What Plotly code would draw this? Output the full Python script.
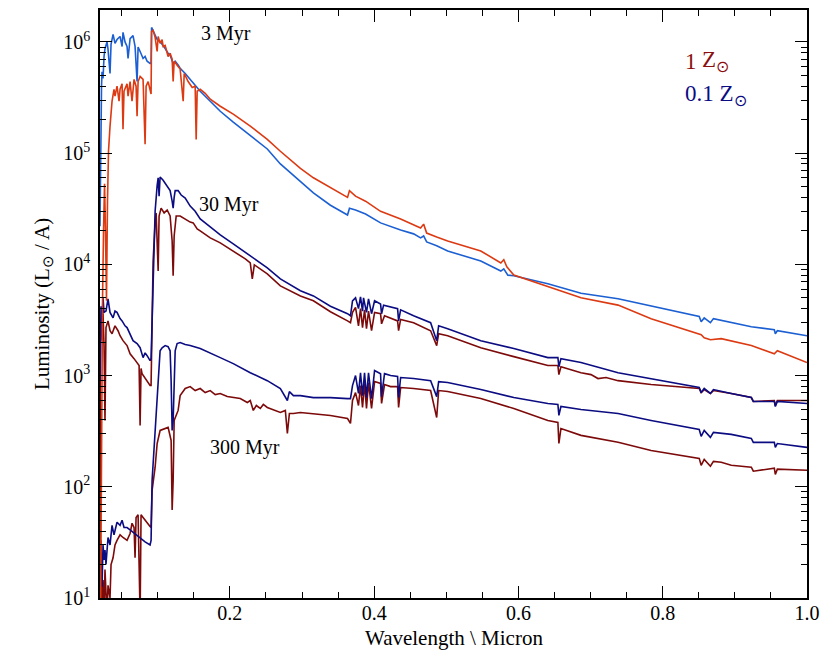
import plotly.graph_objects as go

# Spectra: wavelength in micron, luminosity in L_sun / A

# ---- 3 Myr, 1 Z_sun ----
wl_3myr_z1 = [0.0207, 0.0221, 0.0235, 0.0249, 0.0263, 0.0276, 0.0290, 0.0304, 0.0318,
              0.0339, 0.0367, 0.0394, 0.0408, 0.0436, 0.0464, 0.0478, 0.0506, 0.0519,
              0.0533, 0.0575, 0.0589, 0.0617, 0.0644, 0.0672, 0.0700, 0.0714, 0.0728,
              0.0756, 0.0797, 0.0825, 0.0839, 0.0867, 0.0894, 0.0908, 0.0915, 0.0936,
              0.0964, 0.0992, 0.1006, 0.1033, 0.1061, 0.1075, 0.1103, 0.1144, 0.1172,
              0.1200, 0.1214, 0.1228, 0.1283, 0.1311, 0.1353, 0.1367, 0.1422, 0.1478,
              0.1519, 0.1533, 0.1547, 0.1589, 0.1658, 0.1728, 0.1867, 0.2047, 0.2283,
              0.2519, 0.2700, 0.2978, 0.3158, 0.3394, 0.3631, 0.3658, 0.3742, 0.3881,
              0.4089, 0.4367, 0.4547, 0.4644, 0.4686, 0.4728, 0.4867, 0.5019, 0.5478,
              0.5756, 0.5797, 0.5839, 0.5936, 0.6408, 0.6867, 0.7381, 0.7839, 0.8533,
              0.8575, 0.8661, 0.8811, 0.9228, 0.9547, 0.9589, 1.0000]
lum_3myr_z1 = [6, 395, 4.7e3, 2.0e4, 5.3e4, 2.0e4, 4.7e3, 3.7e4, 1.04e5,
               1.75e5, 2.93e5, 3.75e5, 3.25e5, 4.0e5, 2.93e5, 3.75e5, 4.2e5, 1.64e5,
               3.6e5, 4.2e5, 3.25e5, 4.4e5, 2.93e5, 4.6e5, 4.0e5, 2.15e5, 4.4e5,
               4.9e5, 4.6e5, 1.2e5, 4.0e5, 4.4e5, 3.6e5, 3.4e5, 1.24e6, 1.27e6,
               1.1e6, 8.2e5, 1.12e6, 9.7e5, 1.05e6, 9.1e5, 9.3e5, 7.4e5, 7.9e5,
               7.0e5, 4.4e5, 6.7e5, 6.0e5, 5.7e5, 2.93e5, 5.2e5, 4.4e5, 3.9e5,
               4.0e5, 1.33e5, 3.6e5, 3.75e5, 3.45e5, 3.05e5, 2.64e5, 2.24e5, 1.75e5,
               1.33e5, 1.04e5, 7.3e4, 6.0e4, 4.9e4, 4.0e4, 4.6e4, 4.1e4, 3.7e4,
               3.0e4, 2.56e4, 2.26e4, 2.12e4, 2.3e4, 1.91e4, 1.76e4, 1.62e4, 1.32e4,
               1.03e4, 1.1e4, 9.5e3, 8.0e3, 6.3e3, 5.0e3, 4.3e3, 3.25e3, 2.33e3,
               2.19e3, 2.1e3, 2.15e3, 1.86e3, 1.57e3, 1.67e3, 1.31e3]

# ---- 3 Myr, 0.1 Z_sun ----
wl_3myr_z01 = [0.0200, 0.0207, 0.0214, 0.0221, 0.0228, 0.0242, 0.0256, 0.0269, 0.0297,
               0.0311, 0.0339, 0.0353, 0.0381, 0.0408, 0.0436, 0.0478, 0.0506, 0.0519,
               0.0547, 0.0575, 0.0589, 0.0617, 0.0658, 0.0686, 0.0714, 0.0728, 0.0756,
               0.0797, 0.0825, 0.0853, 0.0894, 0.0908, 0.0915, 0.0922, 0.0964, 0.0992,
               0.1033, 0.1075, 0.1103, 0.1144, 0.1172, 0.1214, 0.1242, 0.1283, 0.1311,
               0.1381, 0.1450, 0.1519, 0.1589, 0.1728, 0.1867, 0.2047, 0.2283, 0.2519,
               0.2700, 0.2978, 0.3158, 0.3394, 0.3631, 0.3658, 0.3742, 0.3881, 0.4089,
               0.4367, 0.4547, 0.4644, 0.4686, 0.4728, 0.4867, 0.5019, 0.5478, 0.5756,
               0.5797, 0.5853, 0.5936, 0.6408, 0.6867, 0.7381, 0.7839, 0.8506, 0.8533,
               0.8575, 0.8661, 0.8703, 0.9228, 0.9547, 0.9561, 0.9589, 1.0000]
lum_3myr_z01 = [2.2e4, 8.5e4, 2.4e5, 4.0e5, 5.4e5, 4.7e5, 7.4e5, 8.7e5, 1.0e6,
                8.6e5, 5.2e5, 9.5e5, 1.17e6, 9.7e5, 1.05e6, 1.12e6, 9.1e5, 1.22e6,
                1.0e6, 9.1e5, 7.1e5, 1.07e6, 1.14e6, 9.1e5, 4.4e5, 9.0e5, 8.2e5,
                7.1e5, 7.4e5, 6.7e5, 6.4e5, 6.4e5, 1.35e6, 1.32e6, 1.17e6, 1.05e6,
                1.01e6, 9.3e5, 8.7e5, 7.9e5, 7.6e5, 6.4e5, 6.7e5, 6.2e5, 5.8e5,
                5.2e5, 4.6e5, 4.1e5, 3.6e5, 2.93e5, 2.38e5, 1.9e5, 1.45e5, 1.09e5,
                8.0e4, 5.6e4, 4.4e4, 3.4e4, 2.78e4, 3.2e4, 3.08e4, 2.84e4, 2.36e4,
                2.04e4, 1.88e4, 1.73e4, 1.8e4, 1.59e4, 1.47e4, 1.32e4, 1.07e4, 8.7e3,
                9.1e3, 8.0e3, 7.9e3, 6.7e3, 5.5e3, 4.9e3, 4.2e3, 3.4e3, 3.05e3,
                3.3e3, 2.99e3, 3.25e3, 2.75e3, 2.58e3, 2.38e3, 2.53e3, 2.28e3]

# ---- 30 Myr, 1 Z_sun ----
wl_30myr_z1 = [0.0200, 0.0207, 0.0214, 0.0228, 0.0242, 0.0256, 0.0269, 0.0283, 0.0311,
               0.0339, 0.0367, 0.0408, 0.0450, 0.0478, 0.0519, 0.0575, 0.0617, 0.0672,
               0.0714, 0.0742, 0.0756, 0.0769, 0.0783, 0.0825, 0.0853, 0.0894, 0.0908,
               0.0922, 0.0936, 0.0964, 0.0978, 0.1006, 0.1019, 0.1047, 0.1089, 0.1131,
               0.1172, 0.1200, 0.1214, 0.1228, 0.1256, 0.1311, 0.1381, 0.1450, 0.1492,
               0.1547, 0.1589, 0.1728, 0.1867, 0.2047, 0.2214, 0.2283, 0.2311, 0.2339,
               0.2519, 0.2700, 0.2978, 0.3158, 0.3394, 0.3631, 0.3672, 0.3700, 0.3742,
               0.3783, 0.3811, 0.3839, 0.3867, 0.3894, 0.3922, 0.3964, 0.4006, 0.4089,
               0.4103, 0.4144, 0.4228, 0.4325, 0.4339, 0.4367, 0.4547, 0.4783, 0.4867,
               0.4894, 0.5019, 0.5478, 0.5936, 0.6408, 0.6547, 0.6561, 0.6589, 0.6867,
               0.7006, 0.7103, 0.7214, 0.7381, 0.7839, 0.8506, 0.8533, 0.8575, 0.8661,
               0.8703, 0.8950, 0.9228, 0.9256, 0.9547, 0.9561, 0.9589, 1.0000]
lum_30myr_z1 = [10, 2.53e3, 2.06e3, 3.45e3, 3.6e3, 1.86e3, 395, 2.7e3, 3.1e3,
                2.53e3, 2.38e3, 2.8e3, 2.53e3, 2.28e3, 2.06e3, 1.86e3, 1.57e3, 1.42e3,
                1.28e3, 1.23e3, 356, 1.16e3, 1.04e3, 940, 900, 813, 813,
                3.1e3, 1.07e4, 2.36e4, 2.9e4, 8.7e3, 2.72e4, 3.2e4, 2.9e4, 3.08e4,
                2.72e4, 1.62e4, 7.9e3, 1.8e4, 2.72e4, 2.72e4, 2.56e4, 2.4e4, 2.36e4,
                2.08e4, 2.0e4, 1.73e4, 1.56e4, 1.32e4, 1.12e4, 1.03e4, 7.4e3, 9.9e3,
                8.2e3, 6.4e3, 5.2e3, 4.7e3, 3.75e3, 3.1e3, 2.99e3, 3.7e3, 4.1e3,
                2.8e3, 4.0e3, 2.7e3, 3.9e3, 2.64e3, 3.8e3, 2.53e3, 3.7e3, 3.6e3,
                2.92e3, 3.45e3, 3.3e3, 3.1e3, 2.53e3, 3.2e3, 2.99e3, 2.53e3, 1.86e3,
                2.38e3, 2.28e3, 1.78e3, 1.48e3, 1.23e3, 1.23e3, 1.02e3, 1.2e3, 1.06e3,
                1.02e3, 940, 960, 900, 830, 765, 703, 748, 690,
                733, 690, 634, 585, 597, 538, 597, 597]

# ---- 30 Myr, 0.1 Z_sun ----
wl_30myr_z01 = [0.0200, 0.0207, 0.0214, 0.0228, 0.0242, 0.0256, 0.0283, 0.0311, 0.0339,
                0.0381, 0.0408, 0.0436, 0.0478, 0.0506, 0.0547, 0.0575, 0.0617, 0.0658,
                0.0714, 0.0756, 0.0797, 0.0825, 0.0853, 0.0894, 0.0908, 0.0922, 0.0936,
                0.0964, 0.0992, 0.1006, 0.1019, 0.1033, 0.1075, 0.1131, 0.1172, 0.1200,
                0.1214, 0.1228, 0.1242, 0.1283, 0.1325, 0.1381, 0.1450, 0.1519, 0.1589,
                0.1728, 0.1867, 0.2047, 0.2283, 0.2519, 0.2700, 0.2978, 0.3158, 0.3394,
                0.3631, 0.3672, 0.3700, 0.3742, 0.3783, 0.3811, 0.3839, 0.3853, 0.3894,
                0.3922, 0.3964, 0.4006, 0.4089, 0.4103, 0.4131, 0.4228, 0.4325, 0.4339,
                0.4367, 0.4547, 0.4783, 0.4867, 0.4894, 0.5019, 0.5478, 0.5936, 0.6408,
                0.6547, 0.6561, 0.6589, 0.6867, 0.7381, 0.7839, 0.8506, 0.8533, 0.8575,
                0.8661, 0.8703, 0.8950, 0.9228, 0.9256, 0.9547, 0.9561, 0.9589, 1.0000]
lum_30myr_z01 = [900, 2.53e3, 4.2e3, 3.1e3, 5.0e3, 3.7e3, 3.8e3, 4.9e3, 3.7e3,
                 3.3e3, 3.8e3, 3.7e3, 3.25e3, 3.1e3, 2.8e3, 2.7e3, 2.38e3, 2.06e3,
                 1.94e3, 1.78e3, 1.45e3, 1.6e3, 1.51e3, 1.36e3, 1.42e3, 3.1e3, 1.07e4,
                 3.0e4, 5.1e4, 6.0e4, 4.1e4, 6.1e4, 5.7e4, 5.1e4, 4.6e4, 3.7e4,
                 3.2e4, 4.0e4, 4.6e4, 4.6e4, 4.2e4, 3.95e4, 3.34e4, 3.0e4, 2.56e4,
                 2.17e4, 1.84e4, 1.53e4, 1.19e4, 9.3e3, 7.4e3, 5.8e3, 5.2e3, 4.2e3,
                 3.6e3, 3.45e3, 4.7e3, 5.0e3, 4.0e3, 5.1e3, 3.8e3, 5.0e3, 3.7e3,
                 4.9e3, 3.6e3, 4.7e3, 4.4e3, 3.6e3, 4.3e3, 4.15e3, 4.0e3, 3.1e3,
                 3.9e3, 3.45e3, 2.99e3, 2.06e3, 2.8e3, 2.64e3, 2.06e3, 1.75e3, 1.45e3,
                 1.45e3, 1.2e3, 1.42e3, 1.31e3, 1.06e3, 940, 780, 703, 765,
                 690, 748, 690, 634, 585, 585, 527, 585, 561]

# ---- 300 Myr, 1 Z_sun ----
wl_300myr_z1 = [0.0200, 0.0214, 0.0228, 0.0242, 0.0256, 0.0269, 0.0297, 0.0311, 0.0339,
                0.0353, 0.0381, 0.0408, 0.0436, 0.0478, 0.0519, 0.0575, 0.0617, 0.0644,
                0.0672, 0.0686, 0.0700, 0.0728, 0.0756, 0.0769, 0.0797, 0.0853, 0.0894,
                0.0908, 0.0922, 0.0964, 0.0992, 0.1033, 0.1103, 0.1144, 0.1186, 0.1200,
                0.1214, 0.1228, 0.1283, 0.1311, 0.1381, 0.1450, 0.1519, 0.1589, 0.1658,
                0.1728, 0.1797, 0.1867, 0.1964, 0.2047, 0.2144, 0.2242, 0.2283, 0.2325,
                0.2367, 0.2422, 0.2464, 0.2519, 0.2631, 0.2700, 0.2769, 0.2797, 0.2825,
                0.2881, 0.2978, 0.3158, 0.3394, 0.3631, 0.3672, 0.3700, 0.3742, 0.3783,
                0.3811, 0.3839, 0.3867, 0.3894, 0.3922, 0.3964, 0.4006, 0.4089, 0.4103,
                0.4144, 0.4228, 0.4325, 0.4339, 0.4367, 0.4547, 0.4783, 0.4867, 0.4894,
                0.5019, 0.5478, 0.5936, 0.6408, 0.6547, 0.6561, 0.6589, 0.6867, 0.7381,
                0.7839, 0.8506, 0.8533, 0.8575, 0.8661, 0.8703, 0.8811, 0.8950, 0.9228,
                0.9256, 0.9547, 0.9561, 0.9589, 1.0000]
lum_300myr_z1 = [8, 33, 7, 14.5, 7, 18, 7, 13, 10,
                 20, 23, 30, 33, 37, 35, 33, 38, 47,
                 43, 23, 53, 56, 7, 56, 53, 47, 44,
                 43, 93, 150, 245, 321, 334, 342, 261, 62,
                 114, 395, 486, 660, 765, 796, 733, 765, 703,
                 733, 675, 690, 647, 634, 621, 573, 597, 486,
                 538, 506, 550, 517, 486, 466, 486, 302, 456,
                 456, 466, 456, 438, 411, 371, 597, 703, 538,
                 813, 517, 850, 506, 865, 506, 883, 850, 561,
                 830, 796, 796, 517, 780, 765, 733, 420, 733,
                 718, 621, 506, 395, 379, 245, 334, 290, 251,
                 212, 180, 156, 176, 153, 169, 166, 156, 150,
                 138, 147, 129, 144, 141]

# ---- 300 Myr, 0.1 Z_sun ----
wl_300myr_z01 = [0.0200, 0.0214, 0.0228, 0.0242, 0.0256, 0.0269, 0.0283, 0.0311, 0.0339,
                 0.0367, 0.0394, 0.0436, 0.0478, 0.0506, 0.0533, 0.0575, 0.0617, 0.0658,
                 0.0714, 0.0756, 0.0825, 0.0894, 0.0908, 0.0922, 0.0950, 0.0978, 0.1006,
                 0.1033, 0.1061, 0.1103, 0.1144, 0.1172, 0.1186, 0.1200, 0.1214, 0.1228,
                 0.1242, 0.1269, 0.1311, 0.1381, 0.1450, 0.1589, 0.1728, 0.1867, 0.2047,
                 0.2283, 0.2519, 0.2700, 0.2797, 0.2825, 0.2881, 0.2978, 0.3158, 0.3394,
                 0.3631, 0.3672, 0.3700, 0.3742, 0.3783, 0.3811, 0.3839, 0.3867, 0.3894,
                 0.3922, 0.3964, 0.4006, 0.4089, 0.4103, 0.4144, 0.4228, 0.4325, 0.4339,
                 0.4367, 0.4547, 0.4783, 0.4867, 0.4894, 0.5019, 0.5478, 0.5936, 0.6408,
                 0.6547, 0.6561, 0.6589, 0.6867, 0.7381, 0.7839, 0.8506, 0.8533, 0.8575,
                 0.8661, 0.8703, 0.8950, 0.9228, 0.9256, 0.9547, 0.9561, 0.9589, 1.0000]
lum_300myr_z01 = [10, 22, 12.6, 30, 22, 27, 20, 35, 30,
                  45, 37, 48, 45, 50, 43, 43, 41, 39,
                  37, 34.5, 32, 30, 33, 114, 212, 395, 900,
                  1.67e3, 1.78e3, 1.86e3, 1.82e3, 1.67e3, 900, 321, 395, 900,
                  1.67e3, 1.94e3, 1.98e3, 1.9e3, 1.86e3, 1.75e3, 1.6e3, 1.45e3, 1.28e3,
                  1.06e3, 900, 765, 597, 718, 660, 660, 634, 634,
                  621, 621, 813, 1.0e3, 690, 1.06e3, 660, 1.06e3, 634,
                  1.06e3, 621, 1.11e3, 1.04e3, 647, 1.04e3, 1.0e3, 980, 634,
                  960, 940, 900, 647, 883, 865, 748, 634, 561,
                  550, 438, 527, 496, 456, 395, 327, 284, 321,
                  278, 308, 296, 272, 251, 251, 226, 245, 226]

series = [
    (wl_300myr_z1, lum_300myr_z1, '#7d0a0a'),
    (wl_300myr_z01, lum_300myr_z01, '#0c0c82'),
    (wl_30myr_z1, lum_30myr_z1, '#7d0a0a'),
    (wl_30myr_z01, lum_30myr_z01, '#0c0c82'),
    (wl_3myr_z01, lum_3myr_z01, '#1b5fd2'),
    (wl_3myr_z1, lum_3myr_z1, '#dc3a12'),
]

fig = go.Figure()
for wl, lum, col in series:
    fig.add_trace(go.Scatter(x=wl, y=lum, mode='lines',
                             line=dict(color=col, width=1.6),
                             showlegend=False))

serif = 'Liberation Serif'

# age labels (y in log10 units on the log axis)
age_labels = ['3 Myr', '30 Myr', '300 Myr']
age_x = [0.1945, 0.1985, 0.2215]
age_logy = [6.076, 4.542, 2.354]
for txt, ax_, ay_ in zip(age_labels, age_x, age_logy):
    fig.add_annotation(x=ax_, y=ay_, xref='x', yref='y', text=txt,
                       showarrow=False, font=dict(family=serif, size=20, color='black'))

# metallicity key
key_red = '#8b0f0f'
key_blue = '#0c0c82'
fig.add_annotation(x=0.8246, y=0.913, xref='paper', yref='paper',
                   xanchor='left', yanchor='middle', align='left',
                   text='1', showarrow=False,
                   font=dict(family=serif, size=23, color=key_red))
fig.add_annotation(x=0.8487, y=0.913, xref='paper', yref='paper',
                   xanchor='left', yanchor='middle', align='left',
                   text='Z<sub>⊙</sub>', showarrow=False,
                   font=dict(family=serif, size=23, color=key_red))
fig.add_annotation(x=0.8246, y=0.856, xref='paper', yref='paper',
                   xanchor='left', yanchor='middle', align='left',
                   text='0.1 Z<sub>⊙</sub>', showarrow=False,
                   font=dict(family=serif, size=23, color=key_blue))

# x-axis title placed by hand so it sits just under the tick labels
fig.add_annotation(x=0.5, y=-0.0678, xref='paper', yref='paper',
                   xanchor='center', yanchor='middle',
                   text='Wavelength \\ Micron', showarrow=False,
                   font=dict(family=serif, size=21, color='black'))

y_major = [1e1, 1e2, 1e3, 1e4, 1e5, 1e6]
y_labels = ['10<sup>1</sup>', '10<sup>2</sup>', '10<sup>3</sup>',
            '10<sup>4</sup>', '10<sup>5</sup>', '10<sup>6</sup>']
y_minor = [m * 10 ** e for e in range(1, 7) for m in range(2, 10)]

fig.update_xaxes(
    range=[0.02, 1.0], tickmode='linear', tick0=0, dtick=0.2, tickformat='.1f',
    ticks='inside', ticklen=12, tickwidth=1.2, tickcolor='black',
    showline=True, linecolor='black', linewidth=1.5, mirror='ticks',
    showgrid=False, zeroline=False, ticklabelstandoff=-4,
    tickfont=dict(family=serif, size=20, color='black'),
    minor=dict(ticks='inside', ticklen=6, tickwidth=1.2, tickcolor='black',
               tick0=0, dtick=0.05, showgrid=False),
)
fig.update_yaxes(
    type='log', range=[1, 6.287], tickmode='array', tickvals=y_major, ticktext=y_labels,
    ticks='inside', ticklen=12, tickwidth=1.2, tickcolor='black',
    showline=True, linecolor='black', linewidth=1.5, mirror='ticks',
    showgrid=False, zeroline=False, ticklabelstandoff=4,
    tickfont=dict(family=serif, size=20, color='black'),
    minor=dict(ticks='inside', ticklen=6, tickwidth=1.2, tickcolor='black',
               tickmode='array', tickvals=y_minor, showgrid=False),
    title=dict(text='Luminosity (L<sub>⊙</sub> / A)', standoff=8,
               font=dict(family=serif, size=21, color='black')),
)

# the page adds an 8px body margin, so the figure is sized to fit the window
fig.update_layout(
    width=822, height=657,
    margin=dict(l=92, r=23, t=0, b=67),
    plot_bgcolor='white', paper_bgcolor='white',
    font=dict(family=serif, size=18, color='black'),
    showlegend=False,
)

fig.write_html('out.html')
